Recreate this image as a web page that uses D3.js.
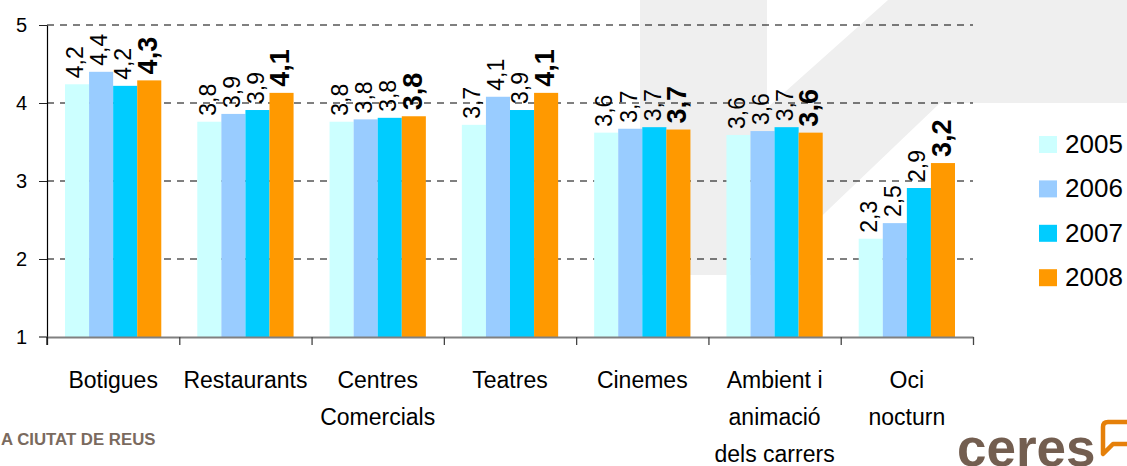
<!DOCTYPE html>
<html>
<head>
<meta charset="utf-8">
<script src="https://cdn.jsdelivr.net/npm/d3@7"></script>
<style>
  html, body { margin: 0; padding: 0; background: #fff; }
  svg { display: block; font-family: "Liberation Sans", Arial, sans-serif; }
</style>
</head>
<body>
<svg id="chart" width="1127" height="466"></svg>
<script>
// ---- data ----
const years = ["2005", "2006", "2007", "2008"];
const categoryLines = [
  ["Botigues"],
  ["Restaurants"],
  ["Centres", "Comercials"],
  ["Teatres"],
  ["Cinemes"],
  ["Ambient i", "animació", "dels carrers"],
  ["Oci", "nocturn"]
];
const categories = categoryLines.map(l => l.join(" "));
const v2005 = [4.24, 3.76, 3.76, 3.72, 3.62, 3.59, 2.26];
const v2006 = [4.40, 3.86, 3.79, 4.08, 3.67, 3.64, 2.46];
const v2007 = [4.22, 3.91, 3.81, 3.91, 3.69, 3.69, 2.91];
const v2008 = [4.29, 4.13, 3.83, 4.13, 3.66, 3.62, 3.23];
const yTicks = [1, 2, 3, 4, 5];
const colors = ["#ccffff", "#99ccff", "#00ccff", "#ff9900"];
const footerText = "A CIUTAT DE REUS";
const logoText = "ceres";

const series = [v2005, v2006, v2007, v2008];

(function () {
// ---- layout ----
const svg = d3.select("#chart");
const pL = 47, pR = 973, pT = 25, pB = 337;

// watermark background
svg.append("path")
  .attr("d", "M640,0 L767,0 L767,108 L888,0 L1127,0 L1127,103 L940,103 L760,275 L640,275 Z")
  .attr("fill", "#efefef");

const x = d3.scaleBand().domain(categories).range([pL, pR]).padding(0);
const x1 = d3.scaleBand().domain(years).range([18, x.bandwidth() - 18]).padding(0);
const y = d3.scaleLinear().domain([1, 5]).range([pB, pT]);
const xb = d3.scaleLinear().domain([0, categories.length]).range([pL, pR]);

// gridlines
svg.append("g").selectAll("line")
  .data(yTicks.filter(t => t > 1))
  .join("line")
  .attr("x1", pL).attr("x2", pR)
  .attr("y1", d => y(d)).attr("y2", d => y(d))
  .attr("stroke", "#000").attr("stroke-width", 1)
  .attr("stroke-dasharray", "7,6");

// bars
const groups = svg.append("g").selectAll("g")
  .data(categories)
  .join("g")
  .attr("transform", d => `translate(${x(d)},0)`);

groups.selectAll("rect")
  .data((d, i) => years.map((yr, j) => ({ yr, j, v: series[j][i] })))
  .join("rect")
  .attr("x", d => x1(d.yr))
  .attr("width", x1.bandwidth())
  .attr("y", d => y(d.v))
  .attr("height", d => y(1) - y(d.v))
  .attr("fill", d => colors[d.j]);

// value labels
const fmt = v => d3.format(".1f")(v).replace(".", ",");
groups.selectAll("text")
  .data((d, i) => years.map((yr, j) => ({ yr, j, v: series[j][i] })))
  .join("text")
  .attr("transform", d => `translate(${x1(d.yr) + x1.bandwidth() / 2 - 2},${y(d.v) - 6}) rotate(-90)`)
  .attr("dy", "0.36em")
  .attr("font-size", d => d.j === 3 ? 27 : 23)
  .attr("font-weight", d => d.j === 3 ? "bold" : "normal")
  .attr("fill", "#000")
  .text(d => fmt(d.v));

// y axis
const yAxis = svg.append("g")
  .attr("transform", `translate(${pL},0)`)
  .call(d3.axisLeft(y).tickValues(yTicks).tickSize(8).tickSizeOuter(0).tickPadding(12).tickFormat(d3.format("d")));
yAxis.select(".domain").attr("stroke", "#000").attr("stroke-width", 1.2);
yAxis.selectAll(".tick line").attr("stroke", "#222");
yAxis.selectAll(".tick text").attr("font-size", 20).attr("fill", "#000")
  .attr("font-family", "Liberation Sans, Arial, sans-serif");

// x axis (boundaries)
const xAxis = svg.append("g")
  .attr("transform", `translate(0,${pB})`)
  .call(d3.axisBottom(xb).tickValues(d3.range(categories.length + 1)).tickSize(8).tickSizeOuter(0).tickFormat(""));
xAxis.select(".domain").attr("stroke", "#808080").attr("stroke-width", 2);
xAxis.selectAll(".tick line").attr("stroke", "#444").attr("stroke-width", 1.3);
svg.append("line").attr("x1", 39).attr("x2", pL).attr("y1", pB).attr("y2", pB)
  .attr("stroke", "#808080").attr("stroke-width", 2);
svg.append("line").attr("x1", pL).attr("x2", pL).attr("y1", pB).attr("y2", pB + 8)
  .attr("stroke", "#000").attr("stroke-width", 1.2);

// category labels
const catG = svg.append("g");
categoryLines.forEach((lines, i) => {
  const cx = x(categories[i]) + x.bandwidth() / 2;
  const t = catG.append("text")
    .attr("text-anchor", "middle")
    .attr("font-size", 23)
    .attr("fill", "#000");
  lines.forEach((ln, k) => {
    t.append("tspan").attr("x", cx).attr("y", 388 + k * 37).text(ln);
  });
});

// legend
const lg = svg.append("g").selectAll("g")
  .data(years)
  .join("g")
  .attr("transform", (d, i) => `translate(1039,${136 + i * 44.4})`);
lg.append("rect").attr("width", 18).attr("height", 17).attr("fill", (d, i) => colors[i]);
lg.append("text").attr("x", 26).attr("y", 17).attr("font-size", 26).attr("fill", "#000").text(d => d);

// footer
svg.append("text")
  .attr("x", 1).attr("y", 445)
  .attr("font-size", 16.8).attr("font-weight", "bold")
  .attr("fill", "#7a6a5e")
  .text(footerText);

// logo
svg.append("text")
  .attr("x", 957).attr("y", 466)
  .attr("font-size", 53).attr("font-weight", "bold")
  .attr("fill", "#735e50")
  .text(logoText);
svg.append("path")
  .attr("d", "M1103,454 L1103,427 Q1103,422 1108,422 L1140,422 L1140,444 L1113,444 Z")
  .attr("fill", "none").attr("stroke", "#e5800a").attr("stroke-width", 4.5)
  .attr("stroke-linejoin", "round");
})();
</script>
</body>
</html>
